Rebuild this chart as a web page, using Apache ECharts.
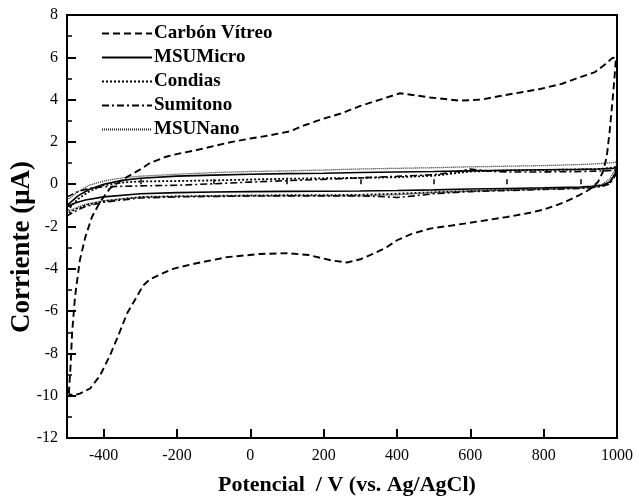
<!DOCTYPE html>
<html>
<head>
<meta charset="utf-8">
<script src="https://cdn.jsdelivr.net/npm/echarts@6/dist/echarts.min.js"></script>
<style>
html,body{margin:0;padding:0;background:#fff;}
#c{width:639px;height:501px;}
</style>
</head>
<body>
<div id="c"></div>
<script>
// ---- data ----
const seriesNames = ['Carbón Vítreo', 'MSUMicro', 'Condias', 'Sumitono', 'MSUNano'];
const xTitle = 'Potencial  / V (vs. Ag/AgCl)';
const yTitle = 'Corriente (μA)';

const xTickLabels = [-400, -200, 0, 200, 400, 600, 800, 1000];
const xMinorTicks = [-300, -100, 100, 300, 500, 700, 900];
const yTickLabels = [-12, -10, -8, -6, -4, -2, 0, 2, 4, 6, 8];

const cvX = [-495,-490,-486,-478,-465,-450,-432,-410,-383,-350,-300,-274,-230,-192,-150,-100,-50,0,50,108,150,200,245,300,354,408,450,490,572,630,681,740,790,850,899,940,967,986,995,
             997,993,987,980,972,962,948,925,899,853,800,763,700,626,550,490,440,400,370,334,300,264,220,160,100,26,-64,-150,-211,-250,-274,-293,-309,-336,-361,-383,-410,-437,-465,-484,-495];
const cvY = [-9.9,-8.5,-7.0,-5.3,-3.6,-2.5,-1.55,-0.85,-0.2,0.2,0.7,1.0,1.3,1.46,1.6,1.8,2.0,2.16,2.3,2.5,2.8,3.1,3.33,3.7,4.0,4.3,4.2,4.1,3.95,4.0,4.17,4.35,4.5,4.75,5.06,5.3,5.66,5.95,6.0,
             5.9,5.0,3.8,2.5,1.3,0.6,0.1,-0.25,-0.5,-0.88,-1.2,-1.35,-1.55,-1.75,-1.95,-2.1,-2.35,-2.65,-3.0,-3.3,-3.55,-3.7,-3.6,-3.35,-3.26,-3.3,-3.45,-3.75,-4.0,-4.3,-4.5,-4.8,-5.3,-6.1,-7.2,-8.1,-9.05,-9.66,-9.9,-9.99,-9.9];

const microX = [-500,-470,-440,-400,-350,-300,-200,-100,0,100,200,300,400,500,600,700,800,900,950,990,1000,
                995,980,960,930,900,800,700,600,500,400,300,200,100,0,-100,-200,-300,-400,-450,-480,-500];
const microY = [-1.0,-0.55,-0.25,0.0,0.18,0.28,0.38,0.43,0.47,0.5,0.52,0.55,0.58,0.6,0.63,0.66,0.68,0.7,0.72,0.75,0.8,
                0.5,0.1,-0.05,-0.1,-0.13,-0.17,-0.2,-0.23,-0.27,-0.3,-0.32,-0.33,-0.34,-0.35,-0.37,-0.4,-0.45,-0.6,-0.75,-0.9,-1.05];

const nanoX = [-500,-470,-440,-400,-350,-300,-200,-100,0,100,200,300,400,500,600,700,800,900,950,990,1000,
               995,980,960,930,900,800,700,600,500,400,300,200,100,0,-100,-200,-300,-400,-450,-480,-500];
const nanoY = [-0.75,-0.35,-0.05,0.15,0.3,0.38,0.47,0.55,0.6,0.63,0.67,0.72,0.75,0.78,0.82,0.85,0.88,0.93,0.97,1.02,1.05,
               0.7,0.25,0.0,-0.12,-0.18,-0.23,-0.28,-0.33,-0.4,-0.5,-0.55,-0.55,-0.55,-0.55,-0.56,-0.58,-0.62,-0.78,-0.95,-1.15,-1.3];

const condX = [-500,-470,-440,-400,-350,-300,-200,-100,0,100,200,300,400,500,600,700,800,900,950,990,1000,
               995,980,960,930,900,800,700,600,500,400,300,200,100,0,-100,-200,-300,-400,-450,-480,-500];
const condY = [-1.25,-0.7,-0.35,-0.05,0.08,0.13,0.15,0.18,0.22,0.26,0.28,0.3,0.33,0.4,0.6,0.65,0.67,0.7,0.72,0.78,0.85,
               0.5,0.05,-0.08,-0.15,-0.18,-0.22,-0.27,-0.32,-0.38,-0.45,-0.5,-0.52,-0.52,-0.53,-0.55,-0.57,-0.6,-0.8,-1.0,-1.2,-1.4];

const sumiX = [-500,-470,-440,-400,-350,-300,-200,-100,0,100,200,300,400,500,550,600,650,700,800,900,950,990,1000,
               995,980,960,930,900,800,700,600,500,450,400,350,300,200,100,0,-100,-200,-300,-400,-450,-480,-500];
const sumiY = [-0.6,-0.35,-0.2,-0.12,-0.1,-0.08,-0.05,0.02,0.1,0.17,0.23,0.3,0.37,0.45,0.55,0.72,0.62,0.58,0.58,0.6,0.62,0.65,0.7,
               0.4,0.0,-0.1,-0.17,-0.2,-0.25,-0.3,-0.35,-0.45,-0.55,-0.63,-0.58,-0.55,-0.55,-0.55,-0.56,-0.58,-0.6,-0.65,-0.85,-1.05,-1.3,-1.5];

// ---- chart ----
const zip = (xs, ys) => xs.map((x, i) => [x, ys[i]]);
const FONT = '"Liberation Serif", "DejaVu Serif", serif';

const chart = echarts.init(document.getElementById('c'), null, {renderer: 'canvas'});

function mk(name, xs, ys, lineStyle) {
  return {
    name: name, type: 'line', data: zip(xs, ys),
    symbol: 'none', showSymbol: false, smooth: false,
    lineStyle: Object.assign({color: '#000'}, lineStyle),
    itemStyle: {color: '#000'},
    z: 3, animation: false
  };
}

const option = {
  animation: false,
  backgroundColor: '#fff',
  grid: {left: 67, right: 22, top: 15, bottom: 58, show: true, borderColor: '#000', borderWidth: 2, backgroundColor: 'transparent'},
  legend: {
    show: true, orient: 'vertical', left: 96, top: 19,
    itemWidth: 50, itemHeight: 14, itemGap: 5,
    data: seriesNames,
    itemStyle: {opacity: 0},
    textStyle: {fontFamily: FONT, fontWeight: 'bold', fontSize: 19, color: '#000', padding: [0,0,0,-3]}
  },
  graphic: [{
    type: 'text', x: 22, y: 247, rotation: Math.PI / 2,
    style: {text: yTitle, fontFamily: FONT, fontWeight: 'bold', fontSize: 27, fill: '#000', align: 'center', verticalAlign: 'middle'}
  }],
  xAxis: [{
    type: 'value', min: -500, max: 1000,
    name: xTitle, nameLocation: 'middle', nameGap: 36,
    nameTextStyle: {fontFamily: FONT, fontWeight: 'bold', fontSize: 22, color: '#000', padding: [0,0,0,10]},
    axisLine: {show: true, onZero: false, lineStyle: {color: '#000', width: 2}},
    axisTick: {show: true, inside: true, length: 9, customValues: xTickLabels, lineStyle: {color: '#000', width: 2}},
    axisLabel: {show: true, customValues: xTickLabels, margin: 10, fontFamily: FONT, fontSize: 16, color: '#000', formatter: v => String(v)},
    splitLine: {show: false}
  }, {
    type: 'value', min: -500, max: 1000, position: 'bottom', gridIndex: 0,
    axisLine: {show: false},
    axisTick: {show: true, inside: true, length: 5, customValues: xMinorTicks, lineStyle: {color: '#000', width: 1.5}},
    axisLabel: {show: false},
    splitLine: {show: false}
  }],
  yAxis: [{
    type: 'value', min: -12, max: 8, interval: 2,
    axisLine: {show: true, onZero: false, lineStyle: {color: '#000', width: 2}},
    axisTick: {show: true, inside: true, length: 9, customValues: yTickLabels, lineStyle: {color: '#000', width: 2}},
    minorTick: {show: true, splitNumber: 2, length: 5, lineStyle: {color: '#000', width: 1.5}},
    axisLabel: {show: true, customValues: yTickLabels, margin: 9, fontFamily: FONT, fontSize: 16, color: '#000', formatter: v => String(v)},
    splitLine: {show: false}, minorSplitLine: {show: false}
  }],
  series: [
    mk(seriesNames[0], cvX, cvY, {type: [7, 4], width: 1.9}),
    mk(seriesNames[1], microX, microY, {type: 'solid', width: 1.6}),
    mk(seriesNames[2], condX, condY, {type: [2, 2], width: 1.8}),
    mk(seriesNames[3], sumiX, sumiY, {type: [7, 3, 2, 3], width: 1.6}),
    mk(seriesNames[4], nanoX, nanoY, {type: [1, 1], width: 1.3, color: '#222'})
  ]
};
chart.setOption(option);
</script>
</body>
</html>
